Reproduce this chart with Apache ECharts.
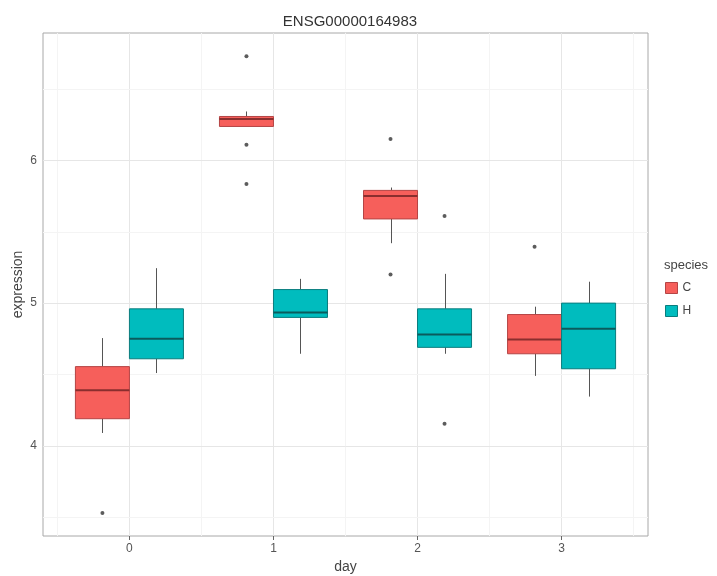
<!DOCTYPE html>
<html>
<head>
<meta charset="utf-8">
<script src="https://cdn.jsdelivr.net/npm/echarts@6/dist/echarts.min.js"></script>
<style>
html, body { margin: 0; padding: 0; background: #fff; }
#main { width: 717px; height: 576px; }
</style>
</head>
<body>
<div id="main"></div>
<script>
// day values on the x axis
var days = [0, 1, 2, 3];
var species = ['C', 'H'];

// box stats per day: [lower whisker, Q1, median, Q3, upper whisker]
var statsC = [
    [4.09, 4.19, 4.39, 4.555, 4.755],
    [6.238, 6.238, 6.29, 6.308, 6.343],
    [5.42, 5.59, 5.75, 5.79, 5.81],
    [4.49, 4.645, 4.745, 4.92, 4.975]
];
var statsH = [
    [4.51, 4.61, 4.75, 4.96, 5.245],
    [4.645, 4.9, 4.935, 5.095, 5.17],
    [4.645, 4.69, 4.78, 4.96, 5.205],
    [4.345, 4.54, 4.82, 5.0, 5.15]
];

// outliers: [day, expression]
var outC = [[0, 3.53], [1, 6.73], [1, 6.11], [1, 5.835], [2, 6.15], [2, 5.2], [3, 5.395]];
var outH = [[2, 5.61], [2, 4.155]];

// axis ticks / grid lines
var yTicks = [4, 5, 6];
var yMinor = [3.5, 4.5, 5.5, 6.5];
var xTicks = [0, 1, 2, 3];
var xMinor = [-0.5, 0.5, 1.5, 2.5, 3.5];

var dodge = 0.1875;   // half of dodge width
var halfBox = 0.1875;

var colorC = '#f65f5b';
var colorH = '#00bcbe';

function boxRows(stats) {
    var rows = [];
    for (var i = 0; i < days.length; i++) {
        rows.push([days[i]].concat(stats[i]));
    }
    return rows;
}

function shift(points, off) {
    return points.map(function (p) { return [p[0] + off, p[1]]; });
}

function makeRender(off, fill, stroke, medColor) {
    return function (params, api) {
        var x = api.value(0) + off;
        var lo = api.value(1), q1 = api.value(2), med = api.value(3), q3 = api.value(4), hi = api.value(5);
        var tl = api.coord([x - halfBox, q3]);
        var br = api.coord([x + halfBox, q1]);
        var cHi = api.coord([x, hi]);
        var cLo = api.coord([x, lo]);
        var cMed = api.coord([x, med]);
        var cx = Math.round(cHi[0]) + 0.5;
        return {
            type: 'group',
            children: [
                { type: 'line', shape: { x1: cx, y1: cHi[1], x2: cx, y2: tl[1] }, style: { stroke: '#555', lineWidth: 1 } },
                { type: 'line', shape: { x1: cx, y1: br[1], x2: cx, y2: cLo[1] }, style: { stroke: '#555', lineWidth: 1 } },
                { type: 'rect', shape: { x: tl[0], y: tl[1], width: br[0] - tl[0], height: br[1] - tl[1] },
                  style: { fill: fill, stroke: stroke, lineWidth: 1 } },
                { type: 'line', shape: { x1: tl[0], y1: cMed[1], x2: br[0], y2: cMed[1] }, style: { stroke: medColor, lineWidth: 2 } }
            ]
        };
    };
}

var gridLines = [];
xTicks.forEach(function (v) { gridLines.push({ xAxis: v, lineStyle: { color: '#e6e6e6', width: 1, type: 'solid' } }); });
xMinor.forEach(function (v) { gridLines.push({ xAxis: v, lineStyle: { color: '#f4f4f4', width: 1, type: 'solid' } }); });
yTicks.forEach(function (v) { gridLines.push({ yAxis: v, lineStyle: { color: '#e6e6e6', width: 1, type: 'solid' } }); });
yMinor.forEach(function (v) { gridLines.push({ yAxis: v, lineStyle: { color: '#f4f4f4', width: 1, type: 'solid' } }); });

var myChart = echarts.init(document.getElementById('main'));
var font = 'Liberation Sans, Arial, sans-serif';

var option = {
    animation: false,
    backgroundColor: '#fff',
    title: [
        {
            text: 'ENSG00000164983',
            left: 345,
            textAlign: 'center',
            top: 9,
            textStyle: { fontFamily: font, fontSize: 15, fontWeight: 'normal', color: '#333' }
        },
        {
            text: 'species',
            left: 659,
            top: 254,
            textStyle: { fontFamily: font, fontSize: 13, fontWeight: 'normal', color: '#444' }
        }
    ],
    legend: {
        orient: 'vertical',
        left: 660,
        top: 277,
        itemWidth: 12,
        itemHeight: 11,
        itemGap: 11,
        icon: 'rect',
        textStyle: { fontFamily: font, fontSize: 12, color: '#444' },
        data: [
            { name: 'C', itemStyle: { color: colorC, borderColor: '#b54545', borderWidth: 1 } },
            { name: 'H', itemStyle: { color: colorH, borderColor: '#0a7d7e', borderWidth: 1 } }
        ]
    },
    grid: {
        left: 43,
        right: 69,
        top: 33,
        bottom: 40,
        outerBoundsMode: 'none',
        containLabel: false,
        show: true,
        borderColor: '#a8a8a8',
        borderWidth: 1
    },
    xAxis: {
        type: 'value',
        min: -0.6,
        max: 3.6,
        name: 'day',
        nameLocation: 'middle',
        nameGap: 24,
        nameTextStyle: { fontFamily: font, fontSize: 14, color: '#444' },
        axisLine: { show: false },
        splitLine: { show: false },
        axisTick: { show: true, length: 4, customValues: xTicks, lineStyle: { color: '#666' } },
        axisLabel: { customValues: xTicks, margin: 7, fontFamily: font, fontSize: 12, color: '#555' }
    },
    yAxis: {
        type: 'value',
        min: 3.368,
        max: 6.893,
        name: 'expression',
        nameLocation: 'middle',
        nameRotate: 90,
        nameGap: 18,
        nameMoveOverlap: false,
        nameTextStyle: { fontFamily: font, fontSize: 14, color: '#444' },
        axisLine: { show: false },
        splitLine: { show: false },
        axisTick: { show: true, length: 4, customValues: yTicks, lineStyle: { color: '#666' } },
        axisLabel: { customValues: yTicks, margin: 6, fontFamily: font, fontSize: 12, color: '#555' }
    },
    series: [
        {
            name: 'grid',
            type: 'scatter',
            data: [],
            silent: true,
            z: 1,
            markLine: {
                silent: true,
                symbol: 'none',
                label: { show: false },
                animation: false,
                z: 1,
                data: gridLines
            }
        },
        {
            name: 'C',
            type: 'custom',
            zlevel: 1,
            z: 3,
            itemStyle: { color: colorC },
            renderItem: makeRender(-dodge, colorC, '#b54545', '#8a2e2e'),
            encode: { x: 0, y: [1, 2, 3, 4, 5] },
            data: boxRows(statsC)
        },
        {
            name: 'H',
            type: 'custom',
            zlevel: 1,
            z: 3,
            itemStyle: { color: colorH },
            renderItem: makeRender(dodge, colorH, '#0a7d7e', '#0b5b5c'),
            encode: { x: 0, y: [1, 2, 3, 4, 5] },
            data: boxRows(statsH)
        },
        {
            name: 'C out',
            type: 'scatter',
            zlevel: 1,
            z: 4,
            symbolSize: 4,
            itemStyle: { color: '#333' },
            data: shift(outC, -dodge)
        },
        {
            name: 'H out',
            type: 'scatter',
            zlevel: 1,
            z: 4,
            symbolSize: 4,
            itemStyle: { color: '#333' },
            data: shift(outH, dodge)
        }
    ]
};

myChart.setOption(option);
</script>
</body>
</html>
